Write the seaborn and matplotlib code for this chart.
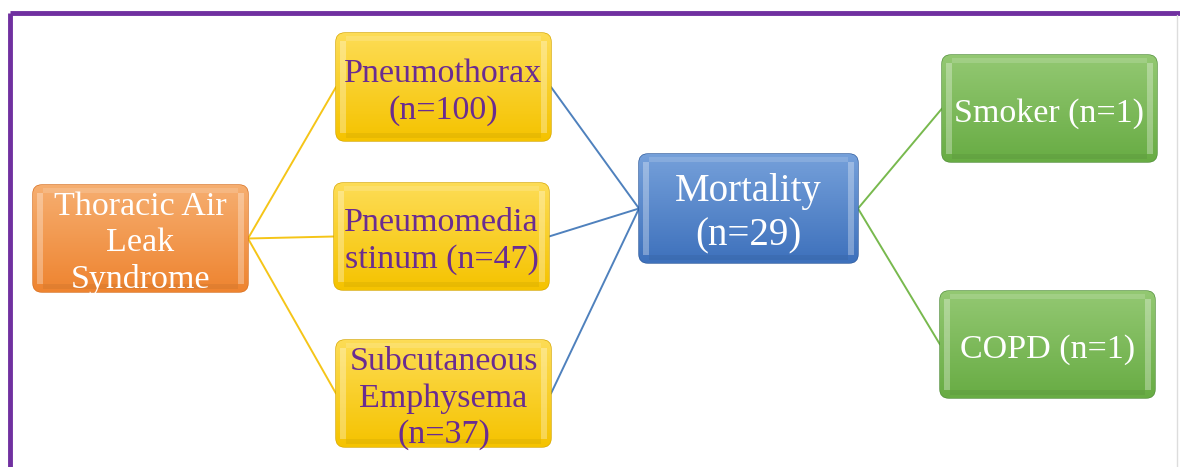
import numpy as np
import pandas as pd
import matplotlib.pyplot as plt
import seaborn as sns
from matplotlib.patches import FancyBboxPatch, Rectangle
from matplotlib.colors import LinearSegmentedColormap

# Node data
labels = ["Thoracic Air\nLeak\nSyndrome", "Pneumothorax", "Pneumomedia\nstinum", "Subcutaneous\nEmphysema",
          "Mortality", "Smoker", "COPD"]
counts = [None, 100, 47, 37, 29, 1, 1]
count_sep = ["", "\n", " ", "\n", "\n", " ", " "]
groups = ["root", "type", "type", "type", "outcome", "risk", "risk"]

# Edges (parent index -> child index)
edge_from = [0, 0, 0, 1, 2, 3, 4, 4]
edge_to = [1, 2, 3, 4, 4, 4, 5, 6]

# Layout (pixel boxes: left, top, right, bottom)
boxes = [(33, 185, 248, 292), (336, 33, 551, 141), (334, 183, 549, 290), (336, 340, 551, 447),
         (639, 154, 858, 263), (942, 55, 1157, 162), (940, 291, 1155, 398)]

styles = {
    "root": dict(top="#F6AE70", bottom="#EE8430", edge="#D87020", text="white", line="#F5C518", fs=24.5),
    "type": dict(top="#FDDC55", bottom="#F5C300", edge="#D8A800", text="#6A2C91", line="#4F81BD", fs=24.5),
    "outcome": dict(top="#75A0DA", bottom="#3E71BC", edge="#2F5C9E", text="white", line="#78B94E", fs=28),
    "risk": dict(top="#93C872", bottom="#68AC44", edge="#52903A", text="white", line="#78B94E", fs=24.5),
}

sns.set_theme(style="white")
plt.rcParams['font.family'] = ['Liberation Serif', 'DejaVu Serif']

fig = plt.figure(figsize=(11.8, 4.67), dpi=100)
ax = fig.add_axes([0, 0, 1, 1])
ax.set_xlim(0, 1180)
ax.set_ylim(467, 0)
ax.axis("off")

# connectors
rows = []
for a, b in zip(edge_from, edge_to):
    l0, t0, r0, b0 = boxes[a]
    l1, t1, r1, b1 = boxes[b]
    rows.append(dict(edge=f"{a}-{b}", x=r0, y=(t0 + b0) / 2, color=styles[groups[a]]["line"]))
    rows.append(dict(edge=f"{a}-{b}", x=l1, y=(t1 + b1) / 2, color=styles[groups[a]]["line"]))
edges = pd.DataFrame(rows)
for name, g in edges.groupby("edge", sort=False):
    sns.lineplot(data=g, x="x", y="y", ax=ax, color=g["color"].iloc[0], lw=1.4,
                 sort=False, estimator=None, zorder=1)

# boxes
for i, (lab, n, sep, grp) in enumerate(zip(labels, counts, count_sep, groups)):
    l, t, r, b = boxes[i]
    st = styles[grp]
    w, h = r - l, b - t
    patch = FancyBboxPatch((l, t), w, h, boxstyle="round,pad=0,rounding_size=9",
                           fc=st["bottom"], ec=st["edge"], lw=1.0, zorder=2)
    ax.add_patch(patch)
    cmap = LinearSegmentedColormap.from_list("g", [st["top"], st["bottom"]])
    grad = np.linspace(0, 1, 64).reshape(-1, 1)
    im = ax.imshow(grad, cmap=cmap, extent=(l, r, b, t), aspect="auto", zorder=2.1)
    im.set_clip_path(patch)
    # bevel highlights
    for x0 in (l + 4, r - 10):
        hl = Rectangle((x0, t + 8), 6, h - 16, fc="white", alpha=0.3, lw=0, zorder=2.2)
        ax.add_patch(hl)
    ax.add_patch(Rectangle((l + 10, t + 3), w - 20, 5, fc="white", alpha=0.15, lw=0, zorder=2.2))
    ax.add_patch(Rectangle((l + 10, b - 8), w - 20, 5, fc="black", alpha=0.05, lw=0, zorder=2.2))
    text = lab if n is None else f"{lab}{sep}(n={n})"
    ax.text((l + r) / 2, (t + b) / 2 + 5, text, ha="center", va="center", color=st["text"],
            fontsize=st["fs"], linespacing=1.25, zorder=3)

# frame
ax.plot([10, 1180], [13, 13], color="#7030A0", lw=3.5, solid_capstyle="butt", zorder=4)
ax.plot([10, 10], [13, 467], color="#7030A0", lw=3.5, solid_capstyle="butt", zorder=4)
ax.plot([1177, 1177], [15, 467], color="#DDDDDD", lw=1, zorder=4)

fig.savefig("out.png", dpi=100)
